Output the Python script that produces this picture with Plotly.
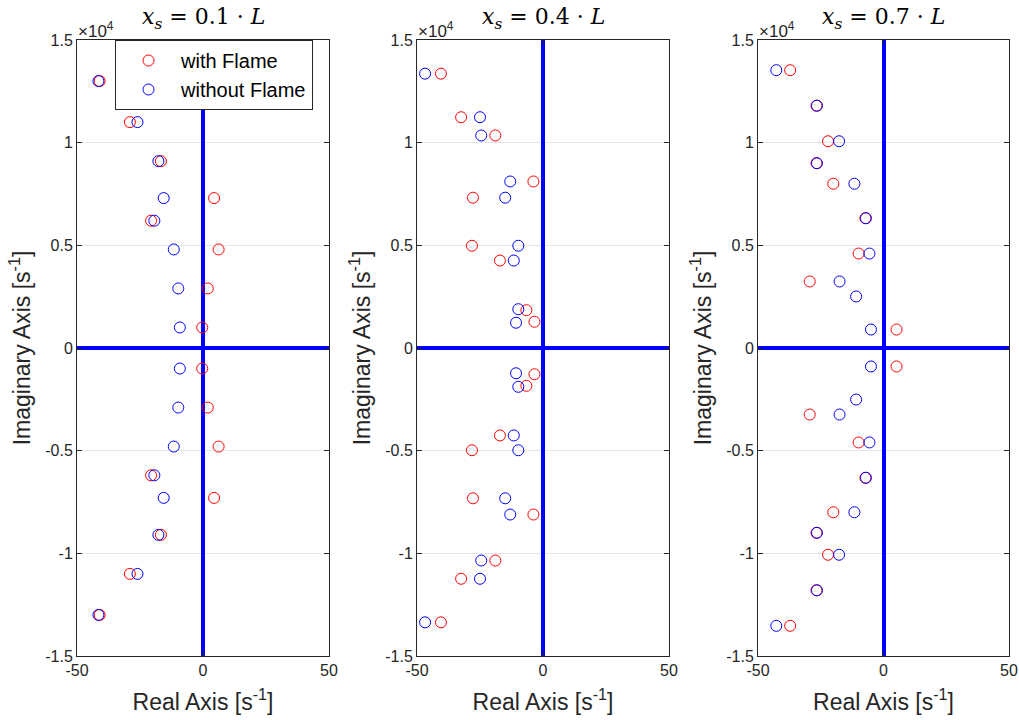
import plotly.graph_objects as go

W, H = 1019, 720

titles = ["<i>x<sub>s</sub></i> = 0.1 · <i>L</i>",
          "<i>x<sub>s</sub></i> = 0.4 · <i>L</i>",
          "<i>x<sub>s</sub></i> = 0.7 · <i>L</i>"]

# Imag values in units of 1e4 s^-1
p1_flame_re = [-41.0, -29.0, -16.7, 4.4, -20.6, 6.2, 1.9, -0.3,
               -0.3, 1.9, 6.2, -20.6, 4.4, -16.7, -29.0, -41.0]
p1_flame_im = [1.30, 1.10, 0.91, 0.73, 0.62, 0.48, 0.29, 0.10,
               -0.10, -0.29, -0.48, -0.62, -0.73, -0.91, -1.10, -1.30]
p1_noflame_re = [-41.5, -26.0, -17.7, -15.6, -19.3, -11.6, -9.8, -9.2,
                 -9.2, -9.8, -11.6, -19.3, -15.6, -17.7, -26.0, -41.5]
p1_noflame_im = [1.30, 1.10, 0.91, 0.73, 0.62, 0.48, 0.29, 0.10,
                 -0.10, -0.29, -0.48, -0.62, -0.73, -0.91, -1.10, -1.30]

p2_flame_re = [-40.5, -32.5, -18.9, -3.8, -27.8, -28.2, -17.1, -6.6, -3.4,
               -3.4, -6.6, -17.1, -28.2, -27.8, -3.8, -18.9, -32.5, -40.5]
p2_flame_im = [1.336, 1.124, 1.035, 0.811, 0.732, 0.498, 0.426, 0.184, 0.128,
               -0.128, -0.184, -0.426, -0.498, -0.732, -0.811, -1.035, -1.124, -1.336]
p2_noflame_re = [-46.8, -25.0, -24.5, -13.0, -15.0, -9.8, -11.6, -9.8, -10.7,
                 -10.7, -9.8, -11.6, -9.8, -15.0, -13.0, -24.5, -25.0, -46.8]
p2_noflame_im = [1.336, 1.124, 1.035, 0.811, 0.732, 0.498, 0.426, 0.189, 0.123,
                 -0.123, -0.189, -0.426, -0.498, -0.732, -0.811, -1.035, -1.124, -1.336]

p3_flame_re = [-37.2, -26.7, -22.1, -26.7, -20.0, -7.2, -9.9, -29.4, 5.2,
               5.2, -29.4, -9.9, -7.2, -20.0, -26.7, -22.1, -26.7, -37.2]
p3_flame_im = [1.353, 1.18, 1.007, 0.90, 0.80, 0.632, 0.46, 0.324, 0.09,
               -0.09, -0.324, -0.46, -0.632, -0.80, -0.90, -1.007, -1.18, -1.353]
p3_noflame_re = [-42.7, -26.5, -17.7, -26.5, -11.6, -7.0, -5.6, -17.5, -10.9, -5.0,
                 -5.0, -10.9, -17.5, -5.6, -7.0, -11.6, -26.5, -17.7, -26.5, -42.7]
p3_noflame_im = [1.353, 1.18, 1.007, 0.90, 0.80, 0.632, 0.46, 0.324, 0.251, 0.09,
                 -0.09, -0.251, -0.324, -0.46, -0.632, -0.80, -0.90, -1.007, -1.18, -1.353]

x_ticks = [-50, 0, 50]
y_ticks = [-1.5, -1, -0.5, 0, 0.5, 1, 1.5]
y_ticktext = ["-1.5", "-1", "-0.5", "0", "0.5", "1", "1.5"]

panels = [(p1_flame_re, p1_flame_im, p1_noflame_re, p1_noflame_im),
          (p2_flame_re, p2_flame_im, p2_noflame_re, p2_noflame_im),
          (p3_flame_re, p3_flame_im, p3_noflame_re, p3_noflame_im)]

# pixel extents of plot areas
px_x = [(77, 329), (417, 669), (758, 1009)]
px_y = (40, 656)

RED = "#FF0000"
BLUE = "#0000FF"
AXC = "#262626"
FONT = "Liberation Sans"

fig = go.Figure()
layout = dict(width=W, height=H, margin=dict(l=0, r=0, t=0, b=0, autoexpand=False),
              paper_bgcolor="white", plot_bgcolor="white",
              showlegend=True)

annotations = []
for i, (fr, fi, nr, ni) in enumerate(panels):
    xa = "x" if i == 0 else f"x{i+1}"
    ya = "y" if i == 0 else f"y{i+1}"
    fig.add_trace(go.Scatter(x=fr, y=fi, mode="markers", name="with Flame",
                             xaxis=xa, yaxis=ya, showlegend=(i == 0),
                             marker=dict(symbol="circle-open", size=11,
                                         color=RED, line=dict(width=1, color=RED))))
    fig.add_trace(go.Scatter(x=nr, y=ni, mode="markers", name="without Flame",
                             xaxis=xa, yaxis=ya, showlegend=(i == 0),
                             marker=dict(symbol="circle-open", size=11,
                                         color=BLUE, line=dict(width=1, color=BLUE))))
    x0, x1 = px_x[i]
    dom_x = [x0 / W, x1 / W]
    dom_y = [1 - px_y[1] / H, 1 - px_y[0] / H]
    xkey = "xaxis" if i == 0 else f"xaxis{i+1}"
    ykey = "yaxis" if i == 0 else f"yaxis{i+1}"
    layout[xkey] = dict(domain=dom_x, range=[-50, 50], anchor=ya, automargin=False,
                        tickvals=x_ticks, ticktext=[str(v) for v in x_ticks],
                        showgrid=False, zeroline=True, zerolinecolor=BLUE,
                        zerolinewidth=3.5, showline=True, mirror="ticks",
                        linecolor=AXC, linewidth=1, ticks="inside", ticklen=5,
                        tickcolor=AXC, tickfont=dict(family=FONT, size=16, color=AXC),
                        title=dict(text="Real Axis [s<sup>-1</sup>]",
                                   font=dict(family=FONT, size=23, color=AXC),
                                   standoff=15))
    layout[ykey] = dict(domain=dom_y, range=[-1.5, 1.5], anchor=xa, automargin=False,
                        tickvals=y_ticks, ticktext=y_ticktext,
                        showgrid=True, gridcolor="#E6E6E6", gridwidth=1,
                        zeroline=True, zerolinecolor=BLUE, zerolinewidth=3.5,
                        showline=True, mirror="ticks", linecolor=AXC, linewidth=1,
                        ticks="inside", ticklen=5, tickcolor=AXC,
                        tickfont=dict(family=FONT, size=16, color=AXC),
                        title=dict(text="Imaginary Axis [s<sup>-1</sup>]",
                                   font=dict(family=FONT, size=23, color=AXC),
                                   standoff=8))
    annotations.append(dict(text=titles[i], xref="paper", yref="paper",
                            x=(x0 + x1) / 2 / W, y=1 - 18 / H,
                            xanchor="center", yanchor="middle", showarrow=False,
                            font=dict(family="DejaVu Serif", size=22, color="black")))
    annotations.append(dict(text="×10<sup>4</sup>", xref="paper", yref="paper",
                            x=(x0 - 1) / W, y=1 - 30 / H,
                            xanchor="left", yanchor="middle", showarrow=False,
                            font=dict(family=FONT, size=17, color=AXC)))

layout["annotations"] = annotations
layout["legend"] = dict(x=115 / W, y=1 - 40 / H, xanchor="left", yanchor="top",
                        bgcolor="white", bordercolor=AXC, borderwidth=1,
                        font=dict(family=FONT, size=20, color="black"),
                        itemwidth=55, tracegroupgap=0)
fig.update_layout(**layout)
fig.write_html("out.html")
